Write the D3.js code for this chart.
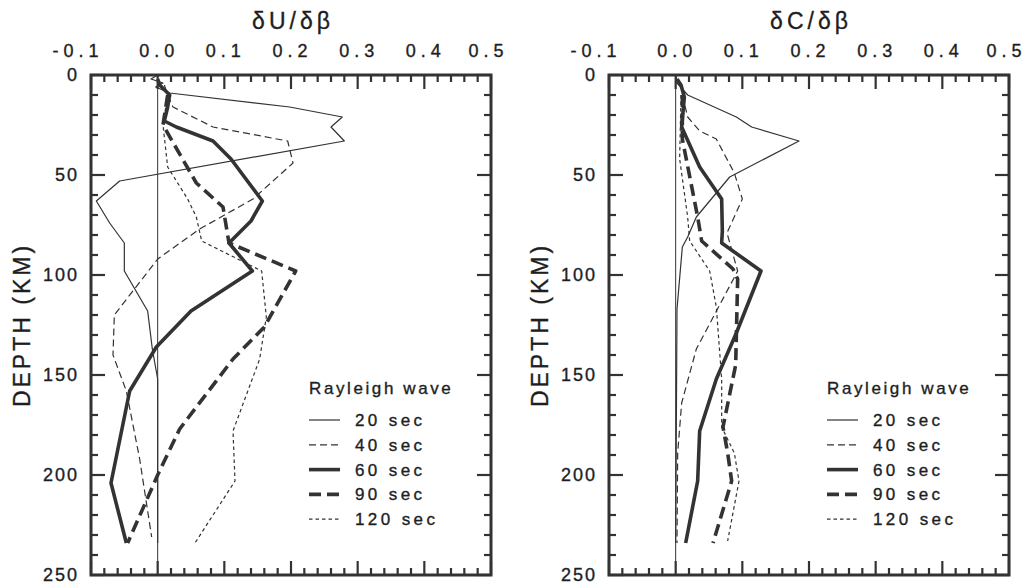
<!doctype html>
<meta charset=utf8>
<title>Rayleigh wave partial derivatives</title>
<style>
  html, body { margin: 0; background: #fff; }
  svg { display: block; font-family: "Liberation Sans", Arial, Helvetica, sans-serif; }
  .frame { fill: none; stroke: #333; stroke-width: 3; }
  .tick { stroke: #333; stroke-width: 2.2; }
  .zero { stroke: #333; stroke-width: 1; }
  .curve { fill: none; stroke: #333; stroke-linejoin: round; }
  text { fill: #1e1e1e; stroke: #1e1e1e; stroke-width: 0.35; }
</style>
<svg width=1029 height=586></svg>
<script src=https://d3js.org/d3.v7.min.js></script>
<script>
  // [depth km, value]
  var periods = ['20 sec', '40 sec', '60 sec', '90 sec', '120 sec'];
  var xTicks = [-0.1, 0.0, 0.1, 0.2, 0.3, 0.4, 0.5];
  var depthTicks = [0, 50, 100, 150, 200, 250];

  var dU20 = [[0, 0.0], [2, -0.01], [4, 0.008], [6, -0.003], [9, 0.018], [16, 0.198], [21, 0.277], [26, 0.26], [33, 0.28],
    [53, -0.057], [63, -0.092], [74, -0.072], [84, -0.05], [98, -0.05], [118, -0.015], [137, -0.008], [152, 0], [234, 0]];
  var dU40 = [[5, 0.01], [10, 0.015], [16, 0.023], [26, 0.083], [33, 0.195], [44, 0.203], [62, 0.143], [77, 0.063], [92, 0.0],
    [120, -0.065], [140, -0.067], [158, -0.047], [192, -0.027], [231, -0.009]];
  var dU60 = [[2, 0.0], [5, 0.003], [10, 0.018], [16, 0.015], [23, 0.01], [26, 0.028], [33, 0.083], [42, 0.11], [63, 0.157],
    [73, 0.14], [84, 0.107], [98, 0.142], [118, 0.05], [136, -0.002], [158, -0.042], [204, -0.07], [234, -0.047]];
  var dU90 = [[10, 0.015], [25, 0.008], [54, 0.058], [66, 0.098], [84, 0.107], [98, 0.207], [126, 0.16], [142, 0.113],
    [177, 0.033], [200, 0.0], [234, -0.045]];
  var dU120 = [[10, 0.015], [25, 0.008], [46, 0.015], [62, 0.045], [71, 0.058], [83, 0.066], [98, 0.156], [121, 0.163],
    [142, 0.153], [178, 0.113], [203, 0.116], [234, 0.056]];

  var dC20 = [[0, 0.0], [4, 0.002], [10, 0.018], [21, 0.091], [26, 0.114], [33, 0.185], [51, 0.081], [71, 0.031], [81, 0.018],
    [86, 0.01], [117, 0.002], [234, 0.0]];
  var dC40 = [[10, 0.01], [21, 0.018], [28, 0.036], [32, 0.061], [49, 0.088], [62, 0.1], [79, 0.077], [98, 0.093],
    [137, 0.031], [164, 0.009], [189, 0.003], [234, 0.002]];
  var dC60 = [[2, 0.002], [5, 0.008], [11, 0.013], [26, 0.009], [46, 0.036], [62, 0.069], [78, 0.07], [84, 0.069],
    [98, 0.128], [129, 0.091], [152, 0.061], [178, 0.036], [203, 0.033], [234, 0.015]];
  var dC90 = [[10, 0.01], [32, 0.01], [71, 0.033], [83, 0.039], [97, 0.086], [102, 0.093], [145, 0.09], [176, 0.071],
    [189, 0.078], [203, 0.084], [234, 0.056]];
  var dC120 = [[10, 0.008], [42, 0.006], [71, 0.018], [83, 0.021], [98, 0.051], [116, 0.061], [152, 0.069], [176, 0.069],
    [189, 0.088], [203, 0.095], [233, 0.078]];

  var styles = [
    { w: 1.2, dash: null },
    { w: 1.2, dash: '7,4' },
    { w: 3.6, dash: null },
    { w: 3.6, dash: '12,6' },
    { w: 1.2, dash: '3.5,3' }
  ];

  var svg = d3.select('svg');

  drawPanel(91, 'δU/δβ', [dU20, dU40, dU60, dU90, dU120]);
  drawPanel(609, 'δC/δβ', [dC20, dC40, dC60, dC90, dC120]);

  function drawPanel(left, title, series) {
    var x = d3.scaleLinear().domain([-0.1, 0.5]).range([left, left + 400]);
    var y = d3.scaleLinear().domain([0, 250]).range([75, 575]);
    var g = svg.append('g');

    // zero reference line
    g.append('line').attr('class', 'zero')
      .attr('x1', x(0)).attr('x2', x(0)).attr('y1', y(0)).attr('y2', y(250));

    // x ticks top and bottom
    d3.range(0, 31).forEach(function (i) {
      var v = -0.1 + i * 0.02;
      var len = i % 5 === 0 ? 14 : 7;
      g.append('line').attr('class', 'tick')
        .attr('x1', x(v)).attr('x2', x(v)).attr('y1', y(0)).attr('y2', y(0) + len);
      g.append('line').attr('class', 'tick')
        .attr('x1', x(v)).attr('x2', x(v)).attr('y1', y(250)).attr('y2', y(250) - len);
    });
    // depth ticks left and right
    d3.range(0, 26).forEach(function (i) {
      var d = i * 10;
      var len = d % 50 === 0 ? 14 : 7;
      g.append('line').attr('class', 'tick')
        .attr('x1', x(-0.1)).attr('x2', x(-0.1) + len).attr('y1', y(d)).attr('y2', y(d));
      g.append('line').attr('class', 'tick')
        .attr('x1', x(0.5)).attr('x2', x(0.5) - len).attr('y1', y(d)).attr('y2', y(d));
    });

    g.append('rect').attr('class', 'frame')
      .attr('x', x(-0.1)).attr('y', y(0)).attr('width', x(0.5) - x(-0.1)).attr('height', y(250) - y(0));

    g.selectAll('.xl').data(xTicks).enter().append('text')
      .attr('x', function (d) { return x(d) + (d < 0 ? -13 : d > 0.45 ? -2.5 : 1.5); })
      .attr('y', 57)
      .attr('text-anchor', 'middle')
      .style('font-size', '18px').style('letter-spacing', '5px')
      .text(function (d) { return d3.format('.1f')(d).replace('\u2212', '-'); });

    g.selectAll('.yl').data(depthTicks).enter().append('text')
      .attr('x', x(-0.1) - 12)
      .attr('y', function (d) { return y(d) + 6; })
      .attr('text-anchor', 'end')
      .style('font-size', '18px').style('letter-spacing', '2px')
      .text(function (d) { return d; });

    g.append('text')
      .attr('x', (x(-0.1) + x(0.5)) / 2 + 2).attr('y', 29)
      .attr('text-anchor', 'middle')
      .style('font-size', '23px').style('letter-spacing', '4px')
      .text(title);

    g.append('text')
      .attr('transform', 'translate(' + (left - 61) + ',325) rotate(-90)')
      .attr('text-anchor', 'middle')
      .style('font-size', '23px').style('letter-spacing', '3px')
      .text('DEPTH (KM)');

    var line = d3.line().x(function (d) { return x(d[1]); }).y(function (d) { return y(d[0]); });

    series.forEach(function (s, i) {
      g.append('path').attr('class', 'curve')
        .attr('d', line(s))
        .attr('stroke-width', styles[i].w)
        .attr('stroke-dasharray', styles[i].dash);
    });

    // legend
    var lx = x(-0.1) + 218;
    g.append('text').attr('x', lx).attr('y', 394)
      .style('font-size', '17px').style('letter-spacing', '2.6px')
      .text('Rayleigh wave');
    periods.forEach(function (p, i) {
      var ly = 420 + i * 24.8;
      g.append('line').attr('class', 'curve')
        .attr('x1', lx).attr('x2', lx + 31).attr('y1', ly).attr('y2', ly)
        .attr('stroke-width', styles[i].w)
        .attr('stroke-dasharray', styles[i].dash);
      g.append('text').attr('x', lx + 46).attr('y', ly + 6)
        .style('font-size', '17px').style('letter-spacing', '3.4px')
        .text(p);
    });
  }
</script>
